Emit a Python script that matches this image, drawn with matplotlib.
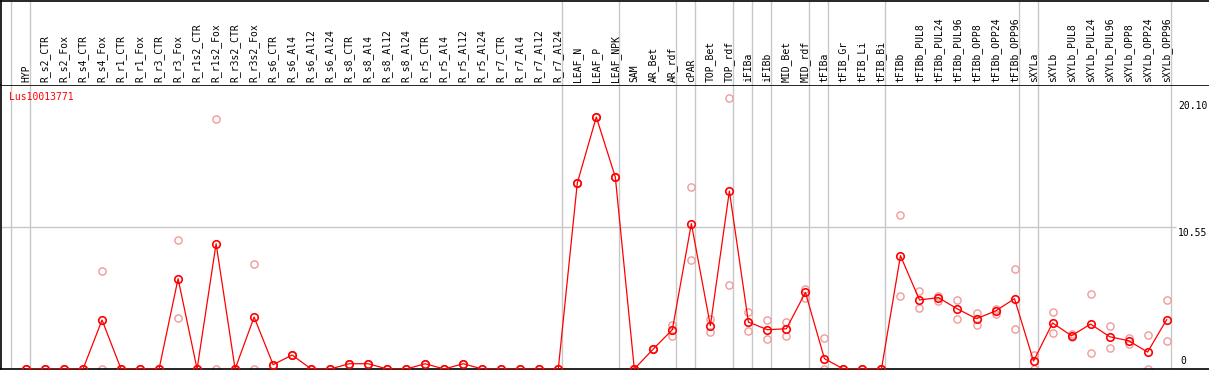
import numpy as np
import matplotlib
matplotlib.use("Agg")
import matplotlib.pyplot as plt

# sample labels, left to right
samples = [
    "HYP",
    "R_s2_CTR", "R_s2_Fox", "R_s4_CTR", "R_s4_Fox", "R_r1_CTR", "R_r1_Fox",
    "R_r3_CTR", "R_r3_Fox", "R_r1s2_CTR", "R_r1s2_Fox", "R_r3s2_CTR", "R_r3s2_Fox",
    "R_s6_CTR", "R_s6_Al4", "R_s6_Al12", "R_s6_Al24",
    "R_s8_CTR", "R_s8_Al4", "R_s8_Al12", "R_s8_Al24",
    "R_r5_CTR", "R_r5_Al4", "R_r5_Al12", "R_r5_Al24",
    "R_r7_CTR", "R_r7_Al4", "R_r7_Al12", "R_r7_Al24",
    "LEAF_N", "LEAF_P", "LEAF_NPK", "SAM", "AR_Bet", "AR_rdf", "cPAR",
    "TOP_Bet", "TOP_rdf", "iFIBa", "iFIBb", "MID_Bet", "MID_rdf",
    "tFIBa", "tFIB_Gr", "tFIB_Li", "tFIB_Bi",
    "tFIBb", "tFIBb_PUL8", "tFIBb_PUL24", "tFIBb_PUL96",
    "tFIBb_OPP8", "tFIBb_OPP24", "tFIBb_OPP96",
    "sXYLa", "sXYLb", "sXYLb_PUL8", "sXYLb_PUL24", "sXYLb_PUL96",
    "sXYLb_OPP8", "sXYLb_OPP24", "sXYLb_OPP96",
]

# mean expression (line)
mean_expr = [
    0, 0, 0, 0, 3.64, 0, 0, 0, 6.71, 0, 9.31, 0, 3.86,
    0.32, 1.04, 0, 0, 0.39, 0.39, 0, 0, 0.39, 0, 0.39, 0, 0, 0, 0, 0,
    13.82, 18.72, 14.26, 0, 1.49, 2.92, 10.80, 3.22, 13.22, 3.49, 2.92, 2.99, 5.69,
    0.77, 0, 0, 0, 8.42, 5.13, 5.30, 4.46, 3.74, 4.31, 5.22,
    0.59, 3.42, 2.47, 3.34, 2.40, 2.10, 1.26, 3.66,
]

# replicates (faded circles)
rep_a = [
    0, 0, 0, 0, 7.30, 0, 0, 0, 9.58, 0, 18.57, 0, 7.80,
    0.32, 1.04, 0, 0, 0.39, 0.39, 0, 0, 0.39, 0, 0.39, 0, 0, 0, 0, 0,
    13.82, 18.72, 14.26, 0, 1.49, 3.29, 13.52, 3.74, 20.10, 4.23, 3.66, 3.49, 5.94,
    2.33, 0, 0, 0, 11.46, 5.79, 5.45, 5.13, 4.18, 4.46, 7.43,
    1.06, 4.23, 2.57, 5.57, 3.19, 2.33, 2.53, 5.13,
]
rep_b = [
    0, 0, 0, 0, 0, 0, 0, 0, 3.79, 0, 0, 0, 0,
    0.32, 1.04, 0, 0, 0.39, 0.39, 0, 0, 0.39, 0, 0.39, 0, 0, 0, 0, 0,
    13.82, 18.72, 14.26, 0, 1.49, 2.47, 8.10, 2.75, 6.24, 2.79, 2.23, 2.45, 5.27,
    0, 0, 0, 0, 5.42, 4.53, 5.02, 3.71, 3.27, 4.11, 2.97,
    0, 2.67, 2.38, 1.21, 1.56, 1.88, 0, 2.08,
]

# group separators drawn after these sample indices
separators = [-1, 0, 28, 31, 34, 35, 37, 38, 39, 41, 42, 45, 52, 53, 60]

y_max_label = 20.10
y_mid_label = 10.55
gene = "Lus10013771"

W, H = 1209, 370
fig = plt.figure(figsize=(W / 100, H / 100), dpi=100)
x = np.arange(len(samples))
xlim = (-1.315, 62.23)
mono = "DejaVu Sans Mono"
grid_c = "#c8c8c8"

ax = fig.add_axes([1 / W, 1 / H, 1 - 1 / W, 284 / H])
top = fig.add_axes([1 / W, 285 / H, 1 - 1 / W, 84.5 / H])

for a in (ax, top):
    a.set_xlim(*xlim)
    a.set_xticks([])
    a.set_yticks([])
    a.spines["right"].set_visible(False)
    for s in ("left", "top", "bottom"):
        a.spines[s].set_linewidth(1.2)
        a.spines[s].set_color("black")
    for s in separators:
        a.axvline(s + 0.21, color=grid_c, lw=1.0, zorder=0)

top.spines["bottom"].set_visible(False)
top.set_ylim(0, 1)
for xi, name in zip(x, samples):
    top.text(xi, 0.03, name, rotation=90, ha="center", va="bottom",
             fontsize=7, family=mono, color="black")

ax.set_ylim(0, 21.1)
ax.hlines(y_mid_label, xlim[0], 60.5, color=grid_c, lw=1.0, zorder=0)

ax.plot(x, rep_a, "o", ms=5.2, mfc="none", mec="#f09a9a", mew=1.0, zorder=2)
ax.plot(x, rep_b, "o", ms=5.2, mfc="none", mec="#f09a9a", mew=1.0, zorder=2)
ax.plot(x, mean_expr, "-", color="red", lw=0.9, zorder=3)
ax.plot(x, mean_expr, "o", ms=5.4, mfc="none", mec="red", mew=1.2, zorder=4,
        clip_on=False)

ax.text(60.6, y_max_label - 0.2, f"{y_max_label:.2f}", ha="left", va="top",
        fontsize=7, family=mono)
ax.text(60.6, y_mid_label - 0.05, f"{y_mid_label:.2f}", ha="left", va="top",
        fontsize=7, family=mono)
ax.text(60.7, 0.25, "0", ha="left", va="bottom", fontsize=7, family=mono)
ax.text(0.007, 0.957, gene, transform=ax.transAxes, ha="left", va="center",
        fontsize=7, family=mono, color="red")

fig.savefig("out.png", dpi=100)
